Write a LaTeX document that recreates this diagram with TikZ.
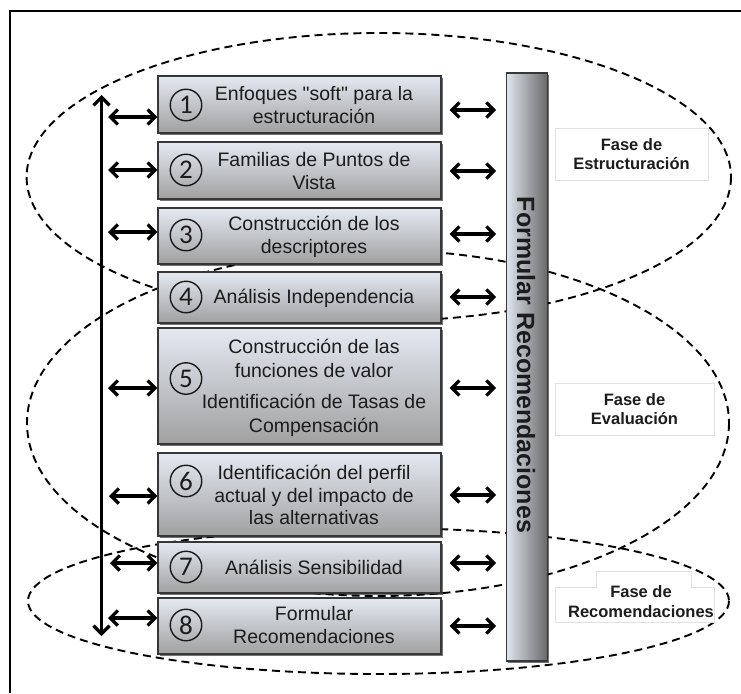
\documentclass[tikz,border=0pt]{standalone}
\usepackage{fontspec}
\setmainfont{Liberation Sans}
\newfontfamily\numfont{Carlito}
\usetikzlibrary{arrows.meta,shadows}
\definecolor{txt}{RGB}{28,28,28}
\definecolor{boxtop}{RGB}{228,233,242}
\definecolor{boxbot}{RGB}{160,160,160}
\definecolor{barl}{RGB}{222,228,238}
\definecolor{barr}{RGB}{105,105,105}
\definecolor{edge}{RGB}{55,55,55}
\begin{document}
\begin{tikzpicture}[x=1pt,y=-1pt,
  stepbox/.style={draw=edge, line width=1.2pt, top color=boxtop, bottom color=boxbot,
    minimum width=283pt, inner sep=0pt,
    drop shadow={shadow xshift=1.6pt, shadow yshift=-1.6pt, opacity=0.55, fill=black}},
  boxtext/.style={font=\fontsize{19.5}{23}\selectfont, align=center, text=txt, inner sep=0pt},
  numc/.style={circle, draw=black!90, line width=1.4pt, minimum size=31.5pt, inner sep=0pt,
    font=\numfont\fontsize{27}{27}\selectfont, text=txt},
  barbox/.style={draw=edge, line width=1.2pt, left color=barl, right color=barr,
    minimum width=40.6pt, minimum height=588pt, inner sep=0pt,
    drop shadow={shadow xshift=1.6pt, shadow yshift=-1.6pt, opacity=0.55, fill=black}},
  phase/.style={fill=white, draw=black!12, line width=0.6pt, align=center, inner sep=0pt,
    font=\bfseries\fontsize{16.5}{19}\selectfont, text=txt},
  phasetext/.style={align=center, inner sep=0pt, font=\bfseries\fontsize{16.5}{20}\selectfont, text=txt},
  phaseline/.style={dash pattern=on 8pt off 5pt, line width=1.9pt},
  dbl/.style={{Straight Barb[length=7.5pt,width=15pt]}-{Straight Barb[length=7.5pt,width=15pt]}, line width=3.2pt},
  vdbl/.style={{Straight Barb[length=8pt,width=16pt]}-{Straight Barb[length=8pt,width=16pt]}, line width=3.3pt}
]
\useasboundingbox (0,0) rectangle (741,693);
% frame
\draw[line width=2pt] (10,693) -- (10,11) -- (741,11);

% phase ellipses
\draw[phaseline] (378.8,177) ellipse [x radius=352.2, y radius=144];
\draw[phaseline] (378,423) ellipse [x radius=351, y radius=173];
\draw[phaseline] (378.5,601) ellipse [x radius=350.5, y radius=73];

% step boxes
\node[stepbox, minimum height=57pt] (b1) at (299.5,104.5) {};
\node[stepbox, minimum height=57pt] (b2) at (299.5,170.5) {};
\node[stepbox, minimum height=56pt] (b3) at (299.5,236) {};
\node[stepbox, minimum height=51pt] (b4) at (299.5,297.5) {};
\node[stepbox, minimum height=116pt] (b5) at (299.5,386) {};
\node[stepbox, minimum height=83pt] (b6) at (299.5,494.5) {};
\node[stepbox, minimum height=51pt] (b7) at (299.5,567.5) {};
\node[stepbox, minimum height=56pt] (b8) at (299.5,626) {};

% numbers
\node[numc] (c1) at (186,105) {1};
\node[numc] (c2) at (186,170) {2};
\node[numc] (c3) at (186,235) {3};
\node[numc] (c4) at (186,297) {4};
\node[numc] (c5) at (186,378.5) {5};
\node[numc] (c6) at (186,481) {6};
\node[numc] (c7) at (186,567) {7};
\node[numc] (c8) at (186,625) {8};

% texts
\node[boxtext] (t1) at (314,105.5) {Enfoques \textquotedbl soft\textquotedbl{} para la\\estructuración};
\node[boxtext] (t2) at (314,171.3) {Familias de Puntos de\\Vista};
\node[boxtext] (t3) at (314,236.8) {Construcción de los\\descriptores};
\node[boxtext] (t4) at (314,298.3) {Análisis Independencia};
\node[boxtext, font=\fontsize{19.5}{24}\selectfont] (t5) at (314,388.3)
  {Construcción de las\\funciones de valor\\[7pt]Identificación de Tasas de\\Compensación};
\node[boxtext, font=\fontsize{19.5}{22.5}\selectfont] (t6) at (314,495.3)
  {Identificación del perfil\\actual y del impacto de\\las alternativas};
\node[boxtext] (t7) at (314,567.3) {Análisis Sensibilidad};
\node[boxtext] (t8) at (314,625.3) {Formular\\Recomendaciones};

% vertical bar
\node[barbox] (bar) at (527,367) {};
\node[rotate=-90, font=\bfseries\fontsize{25}{25}\selectfont, text=txt, inner sep=0pt] (bart) at (526,365) {Formular Recomendaciones};

% phase labels
\node[phase, minimum width=153pt, minimum height=52pt] (p1) at (631.5,154) {Fase de\\Estructuración};
\node[phase, minimum width=159pt, minimum height=52pt] (p2) at (634.5,409) {Fase de\\Evaluación};
\path[fill=white, draw=black!12, line width=0.6pt] (596.7,571.7) -- (691,571.7) -- (691,587.7) -- (714.3,587.7)
  -- (714.3,622.7) -- (555,622.7) -- (555,587.7) -- (596.7,587.7) -- cycle;
\node[phasetext] (p3) at (641,602) {Fase de\\Recomendaciones};

% vertical double arrow
\coordinate (vtop) at (101.5,95);
\coordinate (vbot) at (101.5,636);
\draw[vdbl] (vtop) -- (vbot);

% left arrows
\coordinate (l1) at (108,117);
\coordinate (l2) at (108,170);
\coordinate (l3) at (108,232);
\coordinate (l5) at (108,388);
\coordinate (l6) at (109,496);
\coordinate (l7) at (110,563);
\coordinate (l8) at (108,618);
\draw[dbl] (l1) -- (l1 -| b1.west);
\draw[dbl] (l2) -- (l2 -| b2.west);
\draw[dbl] (l3) -- (l3 -| b3.west);
\draw[dbl] (l5) -- (l5 -| b5.west);
\draw[dbl] (l6) -- (l6 -| b6.west);
\draw[dbl] (l7) -- (l7 -| b7.west);
\draw[dbl] (l8) -- (l8 -| b8.west);

% right arrows
\coordinate (r1) at (0,110);
\coordinate (r2) at (0,171);
\coordinate (r3) at (0,234);
\coordinate (r4) at (0,297);
\coordinate (r5) at (0,388);
\coordinate (r6) at (0,495);
\coordinate (r7) at (0,563);
\coordinate (r8) at (0,626);
\foreach \i in {1,...,8}{
  \draw[dbl, shorten <=8pt, shorten >=10pt] (b\i.east |- r\i) -- (bar.west |- r\i);
}
\end{tikzpicture}
\end{document}
